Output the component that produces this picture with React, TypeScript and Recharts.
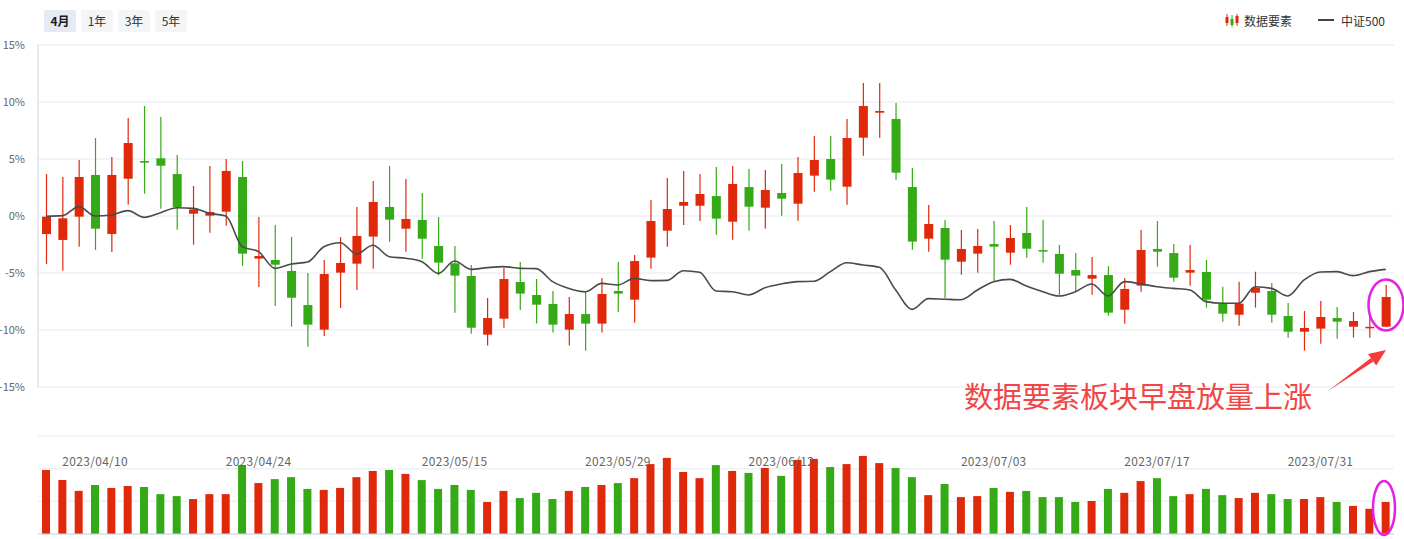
import React from "react"
import {
  ComposedChart,
  Bar,
  Line,
  XAxis,
  YAxis,
  CartesianGrid,
  Cell,
} from "recharts"

const dates = [
  "2023/04/04", "2023/04/06", "2023/04/07", "2023/04/10", "2023/04/11", "2023/04/12", "2023/04/13", "2023/04/14",
  "2023/04/17", "2023/04/18", "2023/04/19", "2023/04/20", "2023/04/21", "2023/04/24", "2023/04/25", "2023/04/26",
  "2023/04/27", "2023/04/28", "2023/05/04", "2023/05/05", "2023/05/08", "2023/05/09", "2023/05/10", "2023/05/11",
  "2023/05/12", "2023/05/15", "2023/05/16", "2023/05/17", "2023/05/18", "2023/05/19", "2023/05/22", "2023/05/23",
  "2023/05/24", "2023/05/25", "2023/05/26", "2023/05/29", "2023/05/30", "2023/05/31", "2023/06/01", "2023/06/02",
  "2023/06/05", "2023/06/06", "2023/06/07", "2023/06/08", "2023/06/09", "2023/06/12", "2023/06/13", "2023/06/14",
  "2023/06/15", "2023/06/16", "2023/06/19", "2023/06/20", "2023/06/21", "2023/06/26", "2023/06/27", "2023/06/28",
  "2023/06/29", "2023/06/30", "2023/07/03", "2023/07/04", "2023/07/05", "2023/07/06", "2023/07/07", "2023/07/10",
  "2023/07/11", "2023/07/12", "2023/07/13", "2023/07/14", "2023/07/17", "2023/07/18", "2023/07/19", "2023/07/20",
  "2023/07/21", "2023/07/24", "2023/07/25", "2023/07/26", "2023/07/27", "2023/07/28", "2023/07/31", "2023/08/01",
  "2023/08/02", "2023/08/03", "2023/08/04",
]

// 数据要素 sector, % change vs start
const opens = [
  -1.58, -2.1, -0.06, 3.6, -1.58, 3.27, 4.82, 5.06, 3.68, 0.2,
  0.03, 0.38, 3.42, -3.74, -3.86, -4.82, -7.81, -9.97, -4.97, -4.18,
  -1.81, 0.79, -1.11, -0.35, -2.63, -4.15, -5.26, -10.41, -9.01, -5.79,
  -6.93, -7.72, -9.97, -8.6, -9.44, -6.58, -7.34, -3.65, -1.29, 0.9,
  0.9, 1.75, -0.5, 2.54, 0.73, 2.02, 1.08, 3.54, 5.0, 2.57,
  6.87, 9.06, 8.51, 2.54, -1.99, -1.05, -4.01, -3.3, -2.46, -3.22,
  -1.49, -2.99, -3.33, -4.74, -5.5, -5.18, -8.22, -6.11, -2.89, -3.25,
  -4.97, -4.91, -7.72, -8.66, -6.73, -6.58, -8.77, -10.15, -9.88, -8.95,
  -9.71, -9.76, -9.71,
]
const closes = [
  -0.06, -0.2, 3.42, -1.11, 3.6, 6.4, 4.68, 4.41, 0.79, 0.58,
  0.35, 3.95, -3.3, -3.51, -4.27, -7.17, -9.53, -5.09, -4.12, -1.75,
  1.23, -0.32, -0.26, -1.99, -4.09, -5.23, -9.8, -8.95, -5.53, -6.81,
  -7.78, -9.53, -8.6, -9.44, -6.84, -6.81, -3.95, -0.44, 0.61, 1.23,
  1.93, -0.23, 2.81, 0.82, 2.28, 1.52, 3.77, 4.91, 3.19, 6.84,
  9.65, 9.21, 3.8, -2.25, -0.7, -3.83, -2.89, -2.63, -2.69, -1.93,
  -2.87, -3.03, -5.06, -5.23, -5.18, -8.48, -6.4, -2.98, -3.13, -5.41,
  -4.74, -7.34, -8.57, -7.69, -6.29, -8.66, -10.15, -9.82, -8.86, -9.27,
  -9.21, -9.72, -7.11,
]
const highs = [
  3.68, 3.42, 4.91, 6.84, 5.18, 8.6, 9.65, 8.68, 5.35, 2.63,
  4.39, 5.0, 4.82, -0.09, -0.79, -1.84, -5.0, -3.86, -1.84, 0.79,
  3.07, 4.39, 3.25, 2.02, -0.09, -2.63, -4.3, -7.19, -4.53, -4.04,
  -5.53, -6.58, -7.11, -6.67, -5.44, -4.04, -3.42, 1.4, 3.33, 3.95,
  3.68, 4.3, 4.39, 4.12, 4.04, 4.56, 5.18, 7.02, 7.02, 8.51,
  11.67, 11.67, 9.91, 4.21, 0.96, -0.35, -1.23, -1.14, -0.44, -0.79,
  0.79, -0.35, -2.54, -3.25, -3.6, -4.39, -5.44, -1.23, -0.44, -2.46,
  -2.54, -3.86, -6.2, -5.76, -4.89, -5.88, -7.63, -8.33, -7.46, -7.98,
  -8.42, -8.68, -6.05,
]
const lows = [
  -4.21, -4.8, -2.69, -2.98, -3.16, 0.99, 1.96, 0.64, -1.2, -2.51,
  -1.46, -0.85, -4.36, -6.23, -7.89, -9.71, -11.46, -10.53, -8.07, -6.49,
  -4.62, -2.25, -3.13, -3.74, -5.2, -8.48, -10.32, -11.37, -9.8, -8.25,
  -9.44, -10.23, -11.37, -11.81, -10.23, -8.42, -9.36, -4.62, -2.69, -0.79,
  -0.44, -1.64, -2.08, -1.29, -1.11, 0.03, -0.41, 2.13, 2.22, 0.99,
  5.29, 6.87, 3.19, -2.95, -3.13, -7.19, -5.15, -4.97, -5.76, -4.27,
  -3.66, -4.1, -6.93, -6.64, -6.9, -8.74, -9.45, -6.64, -4.45, -5.76,
  -6.11, -8.04, -9.27, -9.62, -8.04, -9.36, -10.67, -11.81, -11.2, -10.76,
  -10.67, -10.67, -9.71,
]

// 中证500, % change vs start
const csi500 = [
  -0.02, 0.03, 0.82, 0.0, 0.09, 0.47, -0.12, 0.29, 0.73, 0.67,
  0.23, 0.0, -2.69, -3.13, -4.59, -4.21, -4.04, -2.69, -2.34, -3.33,
  -2.57, -3.57, -3.71, -4.01, -5.03, -3.95, -4.68, -4.53, -4.44, -4.59,
  -4.62, -5.76, -6.35, -6.64, -5.91, -6.05, -5.47, -5.67, -5.65, -4.8,
  -4.94, -6.58, -6.64, -6.93, -6.29, -5.96, -5.76, -5.73, -4.88, -4.1,
  -4.3, -4.5, -6.49, -8.19, -7.25, -7.3, -7.34, -6.49, -5.76, -5.56,
  -6.14, -6.64, -7.02, -6.64, -5.96, -7.02, -5.76, -5.96, -6.2, -6.35,
  -6.49, -7.51, -7.66, -7.66, -6.2, -6.35, -7.02, -5.61, -4.91, -4.88,
  -5.23, -4.88, -4.68,
]

const volumes = [
  196, 165, 132, 150, 141, 147, 144, 122, 116, 107,
  122, 122, 211, 156, 168, 174, 138, 135, 141, 174,
  193, 196, 184, 165, 138, 150, 135, 98, 132, 110,
  126, 107, 132, 144, 150, 156, 171, 214, 233, 190,
  171, 211, 193, 187, 202, 178, 227, 230, 205, 214,
  239, 217, 202, 174, 119, 153, 113, 116, 141, 129,
  132, 113, 113, 98, 101, 138, 126, 162, 171, 116,
  122, 138, 119, 110, 126, 122, 107, 107, 113, 98,
  86, 77, 98,
]

const dateTicks = ["2023/04/10", "2023/04/24", "2023/05/15", "2023/05/29", "2023/06/12", "2023/07/03", "2023/07/17", "2023/07/31"]
const pctTicks = [-15, -10, -5, 0, 5, 10, 15]
const volTicks = [0, 50, 100, 150, 200, 250, 300]
const periods = ["4月", "1年", "3年", "5年"]

const RED = "#e0290b"
const GREEN = "#35aa17"
const FONT = "'Noto Sans CJK SC', 'Noto Sans', sans-serif"

const rows = dates.map((date, i) => ({
  date,
  open: opens[i],
  close: closes[i],
  high: highs[i],
  low: lows[i],
  range: [lows[i], highs[i]],
  csi: csi500[i],
  vol: volumes[i],
}))

const Candle = (props: any) => {
  const { x, y, width, height, payload } = props
  const { open, close, high, low } = payload
  const color = close >= open ? RED : GREEN
  const top = Math.min(y, y + height)
  const bot = Math.max(y, y + height)
  const px = (v: number) => top + ((high - v) / (high - low)) * (bot - top)
  const bTop = px(Math.max(open, close))
  const bBot = px(Math.min(open, close))
  const cx = x + width / 2
  return (
    <g>
      <line x1={cx} x2={cx} y1={top} y2={bot} stroke={color} strokeWidth={1.2} />
      <rect x={x} y={bTop} width={width} height={Math.max(bBot - bTop, 1.5)} fill={color} />
    </g>
  )
}

const PctTick = (props: any) => (
  <text x={25} y={props.y + 4} textAnchor="end" fontSize={11} fill="#666" fontFamily={FONT}>
    {props.payload.value}%
  </text>
)

const DateTick = (props: any) => (
  <text x={props.x} y={46} textAnchor="middle" fontSize={12} fill="#666" fontFamily={FONT} letterSpacing={0.3}>
    {props.payload.value}
  </text>
)

function Arrow() {
  const tail = [1328, 391]
  const tip = [1386, 350]
  const dx = tip[0] - tail[0]
  const dy = tip[1] - tail[1]
  const len = Math.hypot(dx, dy)
  const ux = dx / len
  const uy = dy / len
  const bx = tip[0] - ux * 17
  const by = tip[1] - uy * 17
  const nx = -uy
  const ny = ux
  return (
    <g fill="#f23c3c" stroke="none">
      <polygon
        points={`${tail[0]},${tail[1]} ${bx + nx * 2.2},${by + ny * 2.2} ${bx - nx * 2.2},${by - ny * 2.2}`}
      />
      <polygon
        points={`${tip[0]},${tip[1]} ${bx + nx * 7},${by + ny * 7} ${bx - nx * 7},${by - ny * 7}`}
      />
    </g>
  )
}

export default function App() {
  return (
    <div style={{ position: "absolute", left: 0, top: 0, width: 1404, height: 539, background: "#fff", fontFamily: FONT }}>
      <div style={{ position: "absolute", left: 44, top: 10, display: "flex", gap: 5 }}>
        {periods.map((p, i) => (
          <div
            key={p}
            style={{
              width: 32,
              height: 22,
              lineHeight: "22px",
              textAlign: "center",
              fontSize: 12,
              borderRadius: 2,
              background: i === 0 ? "#e5eaf4" : "#f4f5f7",
              color: i === 0 ? "#1a1a1a" : "#333",
              fontWeight: i === 0 ? 700 : 400,
            }}
          >
            {p}
          </div>
        ))}
      </div>

      <div style={{ position: "absolute", left: 1224, top: 10, display: "flex", alignItems: "center", fontSize: 12, color: "#333", height: 20 }}>
        <svg width={16} height={14} style={{ marginRight: 4 }}>
          <line x1={3} x2={3} y1={1} y2={13} stroke={RED} />
          <rect x={1.5} y={4} width={3} height={6} fill={RED} />
          <line x1={8} x2={8} y1={2} y2={14} stroke={GREEN} />
          <rect x={6.5} y={6} width={3} height={6} fill={GREEN} />
          <line x1={13} x2={13} y1={1} y2={13} stroke={RED} />
          <rect x={11.5} y={3} width={3} height={7} fill={RED} />
        </svg>
        <span>数据要素</span>
        <svg width={16} height={4} style={{ marginLeft: 26, marginRight: 7 }}>
          <line x1={0} x2={16} y1={2} y2={2} stroke="#444" strokeWidth={2} />
        </svg>
        <span>中证500</span>
      </div>

      <div style={{ position: "absolute", left: 0, top: 0 }}>
        <ComposedChart width={1404} height={400} data={rows} margin={{ top: 45, right: 10, bottom: 13, left: 0 }}>
          <CartesianGrid vertical={false} stroke="#eef1f6" strokeWidth={1.5} />
          <XAxis dataKey="date" hide />
          <YAxis
            domain={[-15, 15]}
            ticks={pctTicks}
            width={38}
            tickLine={false}
            axisLine={{ stroke: "#c9d7ec" }}
            tick={<PctTick />}
            interval={0}
          />
          <Bar dataKey="range" barSize={9} shape={<Candle />} isAnimationActive={false} />
          <Line type="monotone" dataKey="csi" stroke="#4a4a4a" strokeWidth={1.6} dot={false} isAnimationActive={false} />
        </ComposedChart>
      </div>

      <div style={{ position: "absolute", left: 0, top: 420 }}>
        <ComposedChart width={1404} height={119} data={rows} margin={{ top: 16, right: 10, bottom: 0, left: 38 }}>
          <CartesianGrid vertical={false} stroke="#eef1f6" strokeWidth={1.5} />
          <XAxis
            dataKey="date"
            height={5}
            ticks={dateTicks}
            interval={0}
            tickLine={false}
            axisLine={{ stroke: "#c9d7ec" }}
            tick={<DateTick />}
          />
          <YAxis hide domain={[0, 300]} ticks={volTicks} />
          <Bar dataKey="vol" barSize={8} isAnimationActive={false}>
            {rows.map((r) => (
              <Cell key={r.date} fill={r.close >= r.open ? RED : GREEN} />
            ))}
          </Bar>
        </ComposedChart>
      </div>

      <svg width={1404} height={539} style={{ position: "absolute", left: 0, top: 0, pointerEvents: "none" }}>
        <text x={964} y={408} fontSize={29} fill="#f24646" fontFamily={FONT}>
          数据要素板块早盘放量上涨
        </text>
        <Arrow />
        <ellipse cx={1386} cy={305} rx={17.5} ry={25.5} fill="none" stroke="#e61ee6" strokeWidth={2.5} />
        <ellipse cx={1384} cy={508} rx={11} ry={27} fill="none" stroke="#e61ee6" strokeWidth={2.5} />
      </svg>
    </div>
  )
}
